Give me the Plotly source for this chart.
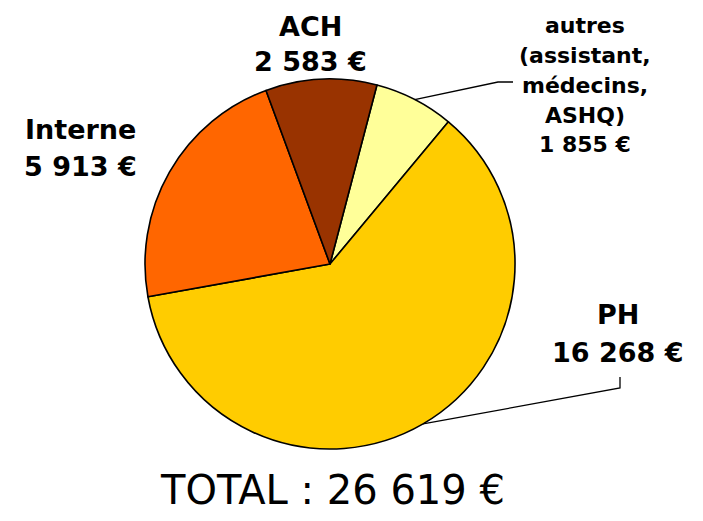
import math
import plotly.graph_objects as go

# ---- data ----
categories = ["autres", "PH", "Interne", "ACH"]
category_lines = [["autres", "(assistant,", "médecins,", "ASHQ)"], ["PH"], ["Interne"], ["ACH"]]
values = [1855, 16268, 5913, 2583]
colors = ["#FFFF99", "#FFCC00", "#FF6600", "#993300"]

# ---- layout constants (page pixels) ----
W, H = 703, 521
OFF = 8  # page body margin
CX, CY, R = 330, 264, 185
ROT = 14.7

label_pos = {  # centre x, centre y, font size, line spacing
    "autres": (585, 85, 22, 30),
    "PH": (618, 333, 27, 38),
    "Interne": (80, 148, 27, 37),
    "ACH": (310, 44, 27, 35),
}
leader = {  # elbow and end of leader lines
    "autres": [(498, 82), (513, 82)],
    "PH": [(620, 388), (620, 377)],
}


def fx(x):
    return (x - OFF) / W


def fy(y):
    return 1 - (y - OFF) / H


def fmt(v):
    return f"{v:,}".replace(",", " ") + " €"


total = sum(values)

fig = go.Figure(
    go.Pie(
        labels=categories,
        values=values,
        marker=dict(colors=colors, line=dict(color="black", width=1.6)),
        sort=False,
        direction="clockwise",
        rotation=ROT,
        textinfo="none",
        hoverinfo="none",
        showlegend=False,
        domain=dict(x=[fx(CX - R), fx(CX + R)], y=[fy(CY + R), fy(CY - R)]),
    )
)

annotations = []
for cat, lines, v in zip(categories, category_lines, values):
    x, y, size, sp = label_pos[cat]
    all_lines = lines + [fmt(v)]
    n = len(all_lines)
    for i, t in enumerate(all_lines):
        ly = y + (i - (n - 1) / 2) * sp
        annotations.append(
            dict(
                x=fx(x), y=fy(ly), xref="paper", yref="paper",
                text=t, showarrow=False, xanchor="center", yanchor="middle",
                font=dict(family="DejaVu Sans", size=size, color="black", weight="bold"),
            )
        )

annotations.append(
    dict(
        x=fx(332), y=fy(490), xref="paper", yref="paper",
        text=f"TOTAL : {fmt(total)}",
        showarrow=False, xanchor="center", yanchor="middle",
        font=dict(family="DejaVu Sans", size=40, color="black"),
    )
)

shapes = []
cum = 0
for cat, v in zip(categories, values):
    mid = math.radians(ROT + 360 * (cum + v / 2) / total)
    cum += v
    if cat in leader:
        x0 = CX + R * math.sin(mid)
        y0 = CY - R * math.cos(mid)
        pts = [(x0, y0)] + leader[cat]
        path = "M " + " L ".join(f"{fx(px)} {fy(py)}" for px, py in pts)
        shapes.append(
            dict(type="path", path=path, xref="paper", yref="paper",
                 line=dict(color="black", width=1.3))
        )

fig.update_layout(
    width=W, height=H,
    margin=dict(l=0, r=0, t=0, b=0),
    paper_bgcolor="white", plot_bgcolor="white",
    annotations=annotations, shapes=shapes,
)

fig.write_html("out.html")
